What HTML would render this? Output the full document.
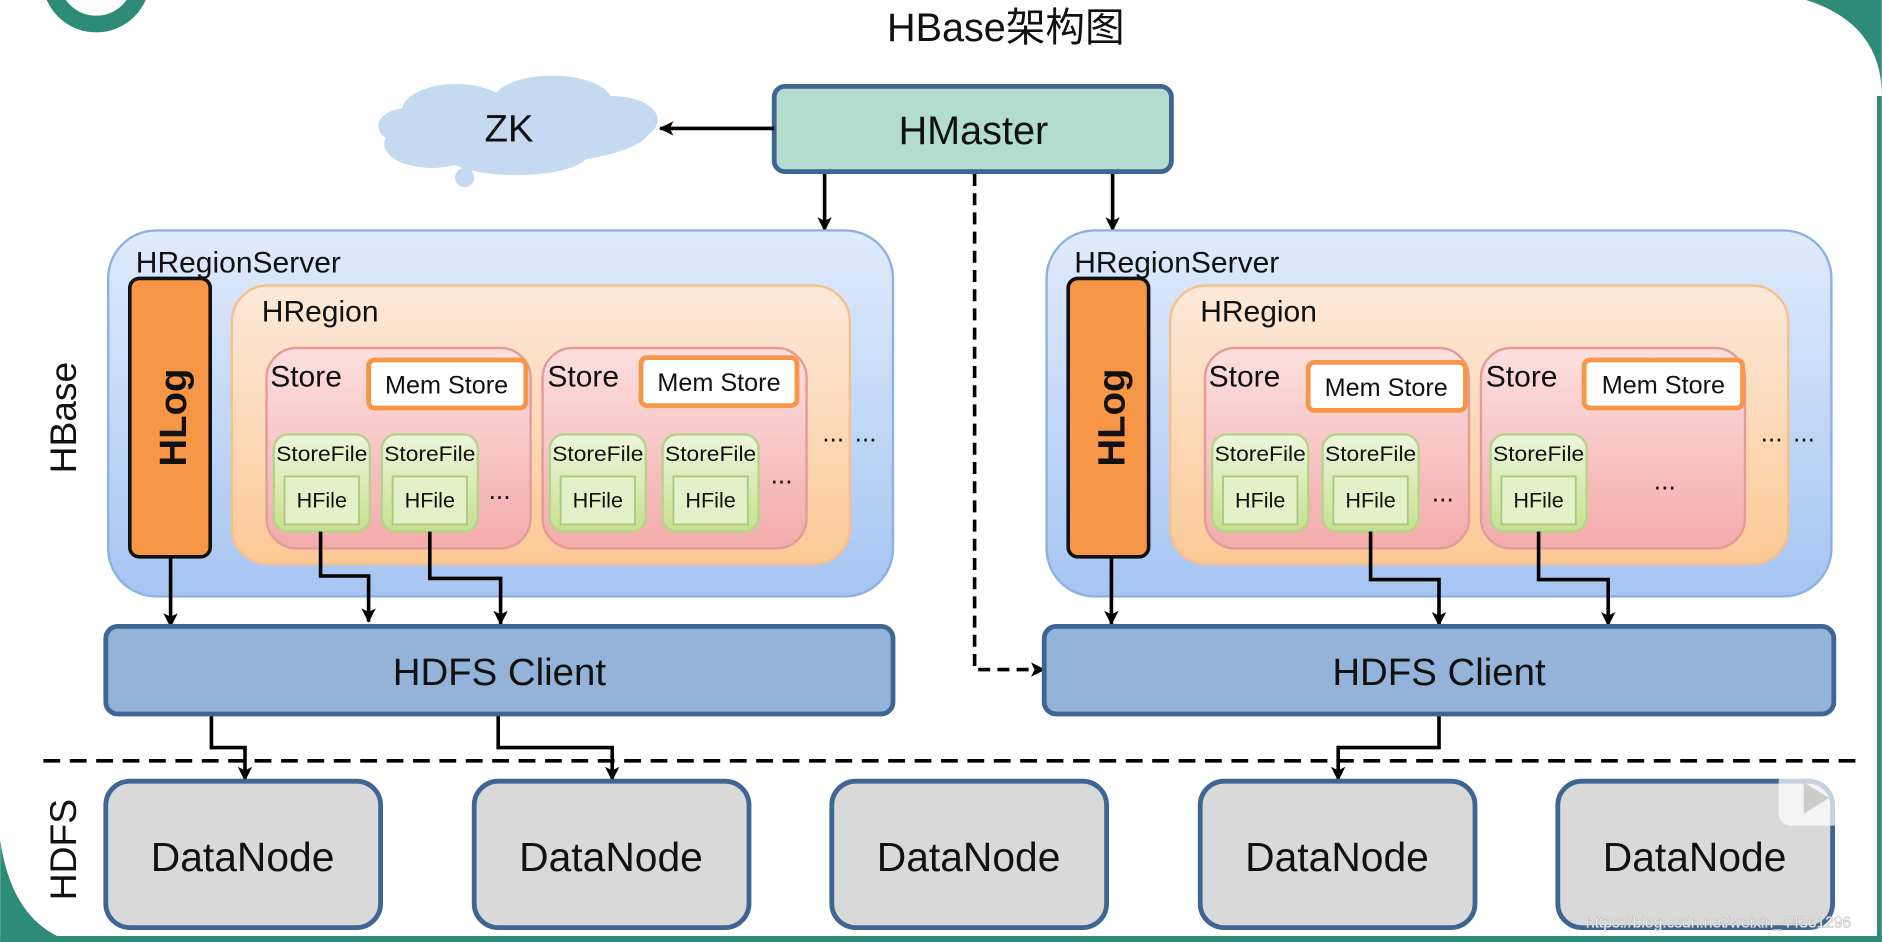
<!DOCTYPE html>
<html><head><meta charset="utf-8"><style>
html,body{margin:0;padding:0;background:#fff;}
svg{display:block;}
text{font-family:"Liberation Sans","Noto Sans CJK SC",sans-serif;fill:#111;}
</style></head><body>
<svg width="1882" height="942" viewBox="0 0 1568 785" xmlns="http://www.w3.org/2000/svg">
<defs>
<linearGradient id="gs" x1="0" y1="0" x2="0" y2="1"><stop offset="0" stop-color="#e0ebfc"/><stop offset="1" stop-color="#a6c5f2"/></linearGradient>
<linearGradient id="gr" x1="0" y1="0" x2="0" y2="1"><stop offset="0" stop-color="#fde9da"/><stop offset="1" stop-color="#fbc995"/></linearGradient>
<linearGradient id="gp" x1="0" y1="0" x2="0" y2="1"><stop offset="0" stop-color="#fbe0df"/><stop offset="1" stop-color="#f4abab"/></linearGradient>
<linearGradient id="gg" x1="0" y1="0" x2="0" y2="1"><stop offset="0" stop-color="#eef6dc"/><stop offset="1" stop-color="#c6e08e"/></linearGradient>
<marker id="a2" markerWidth="12" markerHeight="12" refX="11" refY="6" orient="auto" markerUnits="userSpaceOnUse"><path d="M0,0 L12,6 L0,12 L3,6 Z" fill="#000"/></marker>
<g id="sf"><rect x="0" y="0" width="80" height="81" rx="12" fill="url(#gg)" stroke="#b5d48a" stroke-width="2"/>
<text x="40" y="22" font-size="18" text-anchor="middle" textLength="76" lengthAdjust="spacingAndGlyphs">StoreFile</text>
<rect x="9" y="35" width="62" height="40" fill="#e4f0c8" stroke="#a8c880" stroke-width="1.5"/>
<text x="40" y="61" font-size="18" text-anchor="middle">HFile</text></g>
</defs>
<circle cx="80" cy="-18" r="38" fill="none" stroke="#2e8b78" stroke-width="14"/>
<path d="M1505,0 Q1568,20 1568,80 L1568,0 Z" fill="#2e8b78"/>
<path d="M0,700 Q10,770 60,785 L0,785 Z" fill="#2e8b78"/>
<rect x="0" y="780" width="1568" height="5" fill="#2e8b78"/>
<rect x="1564" y="80" width="4" height="705" fill="#2e8b78"/>
<text x="838" y="34" font-size="33" text-anchor="middle">HBase架构图</text>
<g fill="#c5d9f1">
<ellipse cx="430" cy="107" rx="112" ry="30"/><ellipse cx="380" cy="92" rx="45" ry="22"/><ellipse cx="460" cy="85" rx="50" ry="22"/>
<ellipse cx="510" cy="100" rx="38" ry="20"/><ellipse cx="360" cy="120" rx="40" ry="20"/><ellipse cx="430" cy="128" rx="60" ry="18"/>
<ellipse cx="340" cy="105" rx="25" ry="15"/><ellipse cx="387" cy="148" rx="8" ry="8"/>
</g>
<text x="424" y="118" font-size="32" text-anchor="middle">ZK</text>
<rect x="645" y="72" width="331" height="71" rx="9" fill="#b2ddce" stroke="#3f6593" stroke-width="4"/>
<text x="811" y="120" font-size="33" text-anchor="middle">HMaster</text>
<line x1="645" y1="107" x2="550" y2="107" stroke="#000" stroke-width="3" marker-end="url(#a2)"/>
<line x1="687" y1="145" x2="687" y2="192" stroke="#000" stroke-width="3" marker-end="url(#a2)"/>
<line x1="927" y1="145" x2="927" y2="192" stroke="#000" stroke-width="3" marker-end="url(#a2)"/>
<path d="M812,145 L812,558 L870,558" fill="none" stroke="#000" stroke-width="3" stroke-dasharray="10,6" marker-end="url(#a2)"/>
<g id="srv">
<rect x="90" y="192" width="654" height="305" rx="40" fill="url(#gs)" stroke="#8db2e2" stroke-width="2"/>
<text x="113" y="227" font-size="25">HRegionServer</text>
<rect x="193" y="238" width="515" height="232" rx="30" fill="url(#gr)" stroke="#f7bf8c" stroke-width="2"/>
<text x="218" y="268" font-size="25">HRegion</text>
<rect x="108" y="232" width="67" height="232" rx="8" fill="#f79646" stroke="#111" stroke-width="3"/>
<text transform="translate(155,348) rotate(-90)" font-size="32" font-weight="600" text-anchor="middle">HLog</text>
<rect x="222" y="290" width="220" height="167" rx="25" fill="url(#gp)" stroke="#e39c9a" stroke-width="2"/>
<rect x="452" y="290" width="220" height="167" rx="25" fill="url(#gp)" stroke="#e39c9a" stroke-width="2"/>
<text x="225" y="322" font-size="25">Store</text>
<text x="456" y="322" font-size="25">Store</text>
<text x="685" y="368" font-size="22">...</text>
<text x="712" y="368" font-size="22">...</text>
</g>
<use href="#srv" x="782" y="0"/>
<rect x="307" y="300" width="131" height="40" rx="5" fill="#fff" stroke="#f79646" stroke-width="4"/>
<text x="372" y="328" font-size="21" text-anchor="middle">Mem Store</text>
<rect x="534" y="298" width="130" height="40" rx="5" fill="#fff" stroke="#f79646" stroke-width="4"/>
<text x="599" y="326" font-size="21" text-anchor="middle">Mem Store</text>
<use href="#sf" x="228" y="362"/><use href="#sf" x="318" y="362"/>
<use href="#sf" x="458" y="362"/><use href="#sf" x="552" y="362"/>
<text x="407" y="416" font-size="22">...</text>
<text x="642" y="403" font-size="22">...</text>
<rect x="1090" y="302" width="131" height="40" rx="5" fill="#fff" stroke="#f79646" stroke-width="4"/>
<text x="1155" y="330" font-size="21" text-anchor="middle">Mem Store</text>
<rect x="1320" y="300" width="132" height="40" rx="5" fill="#fff" stroke="#f79646" stroke-width="4"/>
<text x="1386" y="328" font-size="21" text-anchor="middle">Mem Store</text>
<use href="#sf" x="1010" y="362"/><use href="#sf" x="1102" y="362"/><use href="#sf" x="1242" y="362"/>
<text x="1193" y="418" font-size="22">...</text>
<text x="1378" y="408" font-size="22">...</text>
<g fill="none" stroke="#000" stroke-width="3" marker-end="url(#a2)">
<path d="M142,464 L142,522"/>
<path d="M267,443 L267,480 L307,480 L307,518"/>
<path d="M358,443 L358,482 L417,482 L417,520"/>
<path d="M926,464 L926,520"/>
<path d="M1142,443 L1142,483 L1199,483 L1199,521"/>
<path d="M1282,443 L1282,483 L1340,483 L1340,521"/>
<path d="M176,595 L176,623 L204,623 L204,650"/>
<path d="M415,595 L415,623 L510,623 L510,650"/>
<path d="M1199,595 L1199,623 L1115,623 L1115,650"/>
</g>
<rect x="88" y="522" width="656" height="73" rx="10" fill="#94b3d9" stroke="#3f6593" stroke-width="4"/>
<text x="416" y="571" font-size="32" text-anchor="middle">HDFS Client</text>
<rect x="870" y="522" width="658" height="73" rx="10" fill="#94b3d9" stroke="#3f6593" stroke-width="4"/>
<text x="1199" y="571" font-size="32" text-anchor="middle">HDFS Client</text>
<line x1="36" y1="634" x2="1550" y2="634" stroke="#000" stroke-width="3" stroke-dasharray="14,8"/>
<g fill="#d9d9d9" stroke="#3f6593" stroke-width="4">
<rect x="88" y="651" width="229" height="122" rx="20"/><rect x="395" y="651" width="229" height="122" rx="20"/>
<rect x="693" y="651" width="229" height="122" rx="20"/><rect x="1000" y="651" width="229" height="122" rx="20"/>
<rect x="1298" y="651" width="229" height="122" rx="20"/>
</g>
<g font-size="34" text-anchor="middle">
<text x="202" y="726">DataNode</text><text x="509" y="726">DataNode</text><text x="807" y="726">DataNode</text>
<text x="1114" y="726">DataNode</text><text x="1412" y="726">DataNode</text>
</g>
<text transform="translate(63,348) rotate(-90)" font-size="31" text-anchor="middle">HBase</text>
<text transform="translate(63,708) rotate(-90)" font-size="31" text-anchor="middle">HDFS</text>
<rect x="1482" y="642" width="56" height="46" rx="10" fill="#fff" fill-opacity="0.7"/>
<path d="M1503,652 L1524,665 L1503,678 Z" fill="#ccc"/>
<text x="1432" y="773" font-size="13" text-anchor="middle" style="fill:#fff;stroke:#bbb;stroke-width:0.5">https://blog.csdn.net/weixin_44361296</text>
</svg>
</body></html>
